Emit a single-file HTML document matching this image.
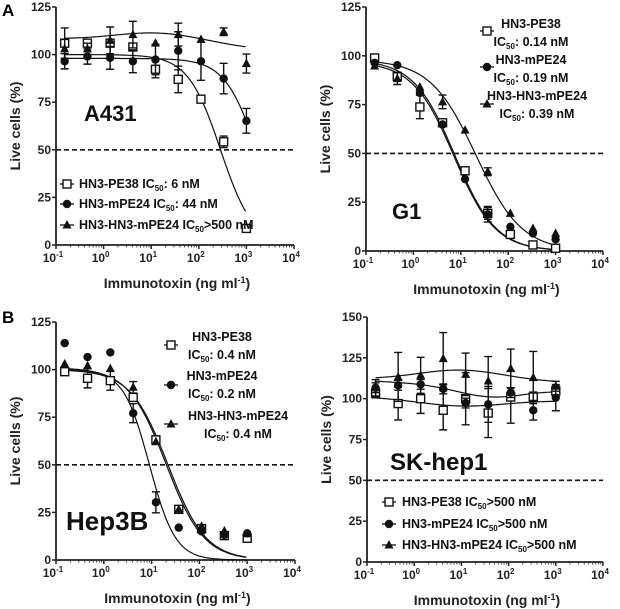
<!DOCTYPE html>
<html><head><meta charset="utf-8">
<style>
html,body{margin:0;padding:0;background:#fff;}
svg{display:block;font-family:"Liberation Sans",Arial,sans-serif;font-weight:bold;}
</style></head>
<body>
<svg id="fig" width="620" height="609" viewBox="0 0 620 609" xmlns="http://www.w3.org/2000/svg">
<text x="2" y="16" font-size="17">A</text>
<text x="2" y="323" font-size="17">B</text>
</svg>
<script>
// shared x doses (ng/ml)
const doses = [0.152, 0.457, 1.37, 4.12, 12.3, 37, 111, 333, 1000];
const xTicks = [-1, 0, 1, 2, 3, 4];

// Panel A431
const a431PE38 = [106, 106, 106, 104, 92.3, 87, 76.6, 54.2, 8.7];
const a431PE38Err = [8, 0, 0, 0, 4.5, 7, 0, 3, 0];
const a431MPE24 = [96.5, 99, 98.3, 96.5, 97.4, 102, 96.5, 87.4, 65.2];
const a431MPE24Err = [4, 4, 6, 6, 8, 10, 10, 8, 6.5];
const a431Tri = [103, 103, 107.5, 110.5, 106, 110.5, 108, 112, 95.3];
const a431TriErr = [5, 3, 7, 7, 0, 6, 0, 2, 5];

// Panel G1
const g1PE38 = [98.9, 89.5, 73.8, 65.7, 41.1, 19.3, 8.5, 3.1, 1.4];
const g1PE38Err = [0, 2, 6, 0, 0, 3, 0, 0, 0];
const g1MPE24 = [96.4, 95.2, 81, 64.8, 36.8, 18.8, 12.4, 9, 6];
const g1MPE24Err = [0, 0, 0, 0, 0, 4, 0, 0, 0];
const g1Tri = [94.8, 88.3, 84, 76.4, 61.9, 40.6, 19.3, 11.6, 9];
const g1TriErr = [0, 3, 0, 3.5, 0, 2, 0, 0, 0];

// Panel Hep3B
const hepPE38 = [98.9, 95.4, 94.2, 85.4, 63.1, 26.6, 16.5, 12.8, 11.4];
const hepPE38Err = [0, 5, 5, 0, 2, 0, 0, 0, 0];
const hepMPE24 = [113.9, 106.6, 109, 77.1, 30.3, 17, 15, 13.1, 14];
const hepMPE24Err = [0, 0, 0, 5, 5.5, 0, 0, 0, 0];
const hepTri = [103, 102, 100.5, 90.7, 62.1, 26.6, 17.7, 15.3, 13.8];
const hepTriErr = [0, 0, 0, 3, 0, 0, 0, 0, 0];

// Panel SK-hep1
const skPE38 = [103.5, 97, 100, 92.9, 100, 91.2, 101, 101, 104.7];
const skPE38Err = [3, 10, 9, 12, 16, 15, 16, 3, 3];
const skMPE24 = [106.7, 108.2, 108.8, 106, 97.3, 96.5, 103.7, 92.9, 100.6];
const skMPE24Err = [3, 3, 3, 3, 3, 11, 3, 6, 8];
const skTri = [106.7, 113.3, 114.3, 124.5, 114.9, 110.8, 118.4, 112.9, 107.6];
const skTriErr = [5, 15, 11, 16, 13, 15, 12, 16, 3];

// fit parameters: sigmoid [top, ic50, hill] or bump [base, slope, amp, center, width]
const fitA = [['sig',[100,286,1.27]],['sig',[98,1700,1.27]],['bump',[105.5,-1.3,6,1.2,1.4]]];
const fitG = [['sig',[98,7.5,1.0]],['sig',[97,7.2,1.0]],['sig',[98,21,0.9]]];
const fitB = [['sig',[100,22,1.1]],['sig',[100,9,1.6]],['sig',[101,20,1.1]]];
const fitS = [['bump',[100,-0.6,-4.5,1.0,1.3]],['bump',[108,-1.5,-6,1.6,1.0]],['bump',[111,-0.5,6.5,1.0,1.3]]];

const NS = 'http://www.w3.org/2000/svg';
const svg = document.getElementById('fig');
function mk(tag, attrs, parent){
  const e = document.createElementNS(NS, tag);
  for (const k in attrs) e.setAttribute(k, attrs[k]);
  (parent||svg).appendChild(e);
  return e;
}
function fitVal(f, x){
  const p = f[1], L = Math.log10(x);
  if (f[0]==='sig') return p[0]/(1+Math.pow(x/p[1],p[2]));
  return p[0] + p[1]*(L-1) + p[2]*Math.exp(-Math.pow((L-p[3])/p[4],2));
}
function marker(g, kind, cx, cy){
  let m;
  if (kind==='sq') m = mk('rect',{x:cx-4,y:cy-4,width:8,height:8,fill:'#fff',stroke:'#111','stroke-width':1.4},g);
  else if (kind==='ci') m = mk('circle',{cx:cx,cy:cy,r:4.2,fill:'#111'},g);
  else m = mk('polygon',{points:`${cx},${cy-5} ${cx+4.5},${cy+3.5} ${cx-4.5},${cy+3.5}`,fill:'#111'},g);
  return m;
}
function panel(o){
  const g = mk('g',{});
  
  
  const xs = v => o.x0 + (Math.log10(v)+1)*o.dec;
  const ys = v => o.yb - v/o.ymax*(o.yb-o.yt);
  const xEnd = o.x0 + 5*o.dec;
  const ax = mk('path',{d:`M${o.x0} ${o.yt} V${o.yb} H${xEnd}`,fill:'none',stroke:'#222','stroke-width':1.8},g);
  
  
  o.yTicks.forEach(t=>{
    mk('line',{x1:o.x0-4,x2:o.x0,y1:ys(t),y2:ys(t),stroke:'#222','stroke-width':1.5},g);
    const tl = mk('text',{x:o.x0-5,y:ys(t)+4,'font-size':12,'text-anchor':'end',fill:'#222'},g);
    tl.textContent = t;
    
    
  });
  xTicks.forEach(e=>{
    const px = o.x0 + (e+1)*o.dec;
    mk('line',{x1:px,x2:px,y1:o.yb,y2:o.yb+4,stroke:'#222','stroke-width':1.5},g);
    if (e<4) for (let k=2;k<10;k++){
      const mx = px + Math.log10(k)*o.dec;
      mk('line',{x1:mx,x2:mx,y1:o.yb,y2:o.yb+2.5,stroke:'#222','stroke-width':0.8},g);
    }
    const tl = mk('text',{x:px-3,y:o.yb+17,'font-size':12,'text-anchor':'middle',fill:'#222'},g);
    
    
    tl.innerHTML = `10<tspan dy="-5" font-size="8">${e}</tspan>`;
  });
  const xt = mk('text',{x:(o.x0+xEnd)/2+2,y:o.yb+43,'font-size':14,'text-anchor':'middle',fill:'#222'},g);
  
  
  xt.innerHTML = 'Immunotoxin (ng ml<tspan dy="-5" font-size="9">-1</tspan><tspan dy="5">)</tspan>';
  const yc = (o.yt+o.yb)/2;
  const yt = mk('text',{x:o.x0-36,y:yc,'font-size':14,'text-anchor':'middle',fill:'#222',transform:`rotate(-90 ${o.x0-36} ${yc})`},g);
  yt.textContent = 'Live cells (%)';
  
  
  const dl = mk('line',{x1:o.x0,x2:xEnd,y1:ys(50),y2:ys(50),stroke:'#111','stroke-width':1.6,'stroke-dasharray':'5,3'},g);
  
  
  o.fits.forEach((f,i)=>{
    let d='';
    for (let L=Math.log10(doses[0]); L<=3.0001; L+=0.02){
      const v = fitVal(f, Math.pow(10,L));
      d += (d?'L':'M')+xs(Math.pow(10,L)).toFixed(1)+' '+ys(Math.max(v,-1)).toFixed(1);
    }
    const p = mk('path',{d:d,fill:'none',stroke:'#111','stroke-width':1.2},g);
    
    
  });
  o.series.forEach(s=>{
    s.vals.forEach((v,j)=>{
      const cx = xs(doses[j]), cy = ys(v), e = s.err[j];
      if (e>0){
        const eh = e/o.ymax*(o.yb-o.yt);
        mk('path',{d:`M${cx} ${cy-eh}V${cy+eh}M${cx-4} ${cy-eh}H${cx+4}M${cx-4} ${cy+eh}H${cx+4}`,stroke:'#111','stroke-width':1.4,fill:'none'},g);
      }
      const m = marker(g, s.kind, cx, cy);
      
      
    });
  });
  const cl = mk('text',{x:o.lab[0],y:o.lab[1],'font-size':o.lab[2],fill:'#111'},g);
  cl.textContent = o.name;
  
  
  o.legend.forEach(l=>{
    mk('line',{x1:l.mx-7,x2:l.mx+7,y1:l.my,y2:l.my,stroke:'#111','stroke-width':1.3},g);
    const m = marker(g, l.kind, l.mx, l.my);
    
    
    l.lines.forEach(t=>{
      const tx = mk('text',{x:t[0],y:t[1],'font-size':12.5,'text-anchor':t[3]||'start',fill:'#111'},g);
      tx.innerHTML = t[2];
      
      
    });
  });
  return g;
}
const IC = 'IC<tspan dy="3" font-size="8">50</tspan><tspan dy="-3">';
panel({name:'A431',x0:56,dec:47.6,yt:7,yb:245,ymax:125,yTicks:[0,25,50,75,100,125],fits:fitA,
  series:[{key:'pe38',kind:'sq',vals:a431PE38,err:a431PE38Err},{key:'mpe24',kind:'ci',vals:a431MPE24,err:a431MPE24Err},{key:'hn3-mpe24',kind:'tri',vals:a431Tri,err:a431TriErr}],
  lab:[84,121,22],
  legend:[{kind:'sq',mx:67,my:184,lines:[[79,188,'HN3-PE38 '+IC+': 6 nM</tspan>']]},
          {kind:'ci',mx:67,my:204,lines:[[79,208,'HN3-mPE24 '+IC+': 44 nM</tspan>']]},
          {kind:'tri',mx:67,my:225,lines:[[79,229,'HN3-HN3-mPE24 '+IC+'&gt;500 nM</tspan>']]}]});
panel({name:'G1',x0:366,dec:47.4,yt:7,yb:251,ymax:125,yTicks:[0,25,50,75,100,125],fits:fitG,
  series:[{key:'pe38',kind:'sq',vals:g1PE38,err:g1PE38Err},{key:'mpe24',kind:'ci',vals:g1MPE24,err:g1MPE24Err},{key:'hn3-mpe24',kind:'tri',vals:g1Tri,err:g1TriErr}],
  lab:[392,219,22],
  legend:[{kind:'sq',mx:487,my:31,lines:[[531,28,'HN3-PE38','middle'],[531,46,IC+': 0.14 nM</tspan>','middle']]},
          {kind:'ci',mx:487,my:67,lines:[[531,64,'HN3-mPE24','middle'],[531,82,IC+': 0.19 nM</tspan>','middle']]},
          {kind:'tri',mx:487,my:104,lines:[[537,100,'HN3-HN3-mPE24','middle'],[537,118,IC+': 0.39 nM</tspan>','middle']]}]});
panel({name:'Hep3B',x0:56,dec:47.8,yt:322,yb:560,ymax:125,yTicks:[0,25,50,75,100,125],fits:fitB,
  series:[{key:'pe38',kind:'sq',vals:hepPE38,err:hepPE38Err},{key:'mpe24',kind:'ci',vals:hepMPE24,err:hepMPE24Err},{key:'hn3-mpe24',kind:'tri',vals:hepTri,err:hepTriErr}],
  lab:[66,530,26],
  legend:[{kind:'sq',mx:171,my:345,lines:[[222,341,'HN3-PE38','middle'],[222,359,IC+': 0.4 nM</tspan>','middle']]},
          {kind:'ci',mx:171,my:385,lines:[[222,380,'HN3-mPE24','middle'],[222,398,IC+': 0.2 nM</tspan>','middle']]},
          {kind:'tri',mx:171,my:424,lines:[[238,420,'HN3-HN3-mPE24','middle'],[238,438,IC+': 0.4 nM</tspan>','middle']]}]});
panel({name:'SK-hep1',x0:367,dec:47.2,yt:317,yb:562,ymax:150,yTicks:[0,25,50,75,100,125,150],fits:fitS,
  series:[{key:'pe38',kind:'sq',vals:skPE38,err:skPE38Err},{key:'mpe24',kind:'ci',vals:skMPE24,err:skMPE24Err},{key:'hn3-mpe24',kind:'tri',vals:skTri,err:skTriErr}],
  lab:[390,470,24],
  legend:[{kind:'sq',mx:389,my:502,lines:[[402,506,'HN3-PE38 '+IC+'&gt;500 nM</tspan>']]},
          {kind:'ci',mx:389,my:524,lines:[[402,528,'HN3-mPE24 '+IC+'&gt;500 nM</tspan>']]},
          {kind:'tri',mx:389,my:545,lines:[[402,549,'HN3-HN3-mPE24 '+IC+'&gt;500 nM</tspan>']]}]});
</script>
</body></html>
